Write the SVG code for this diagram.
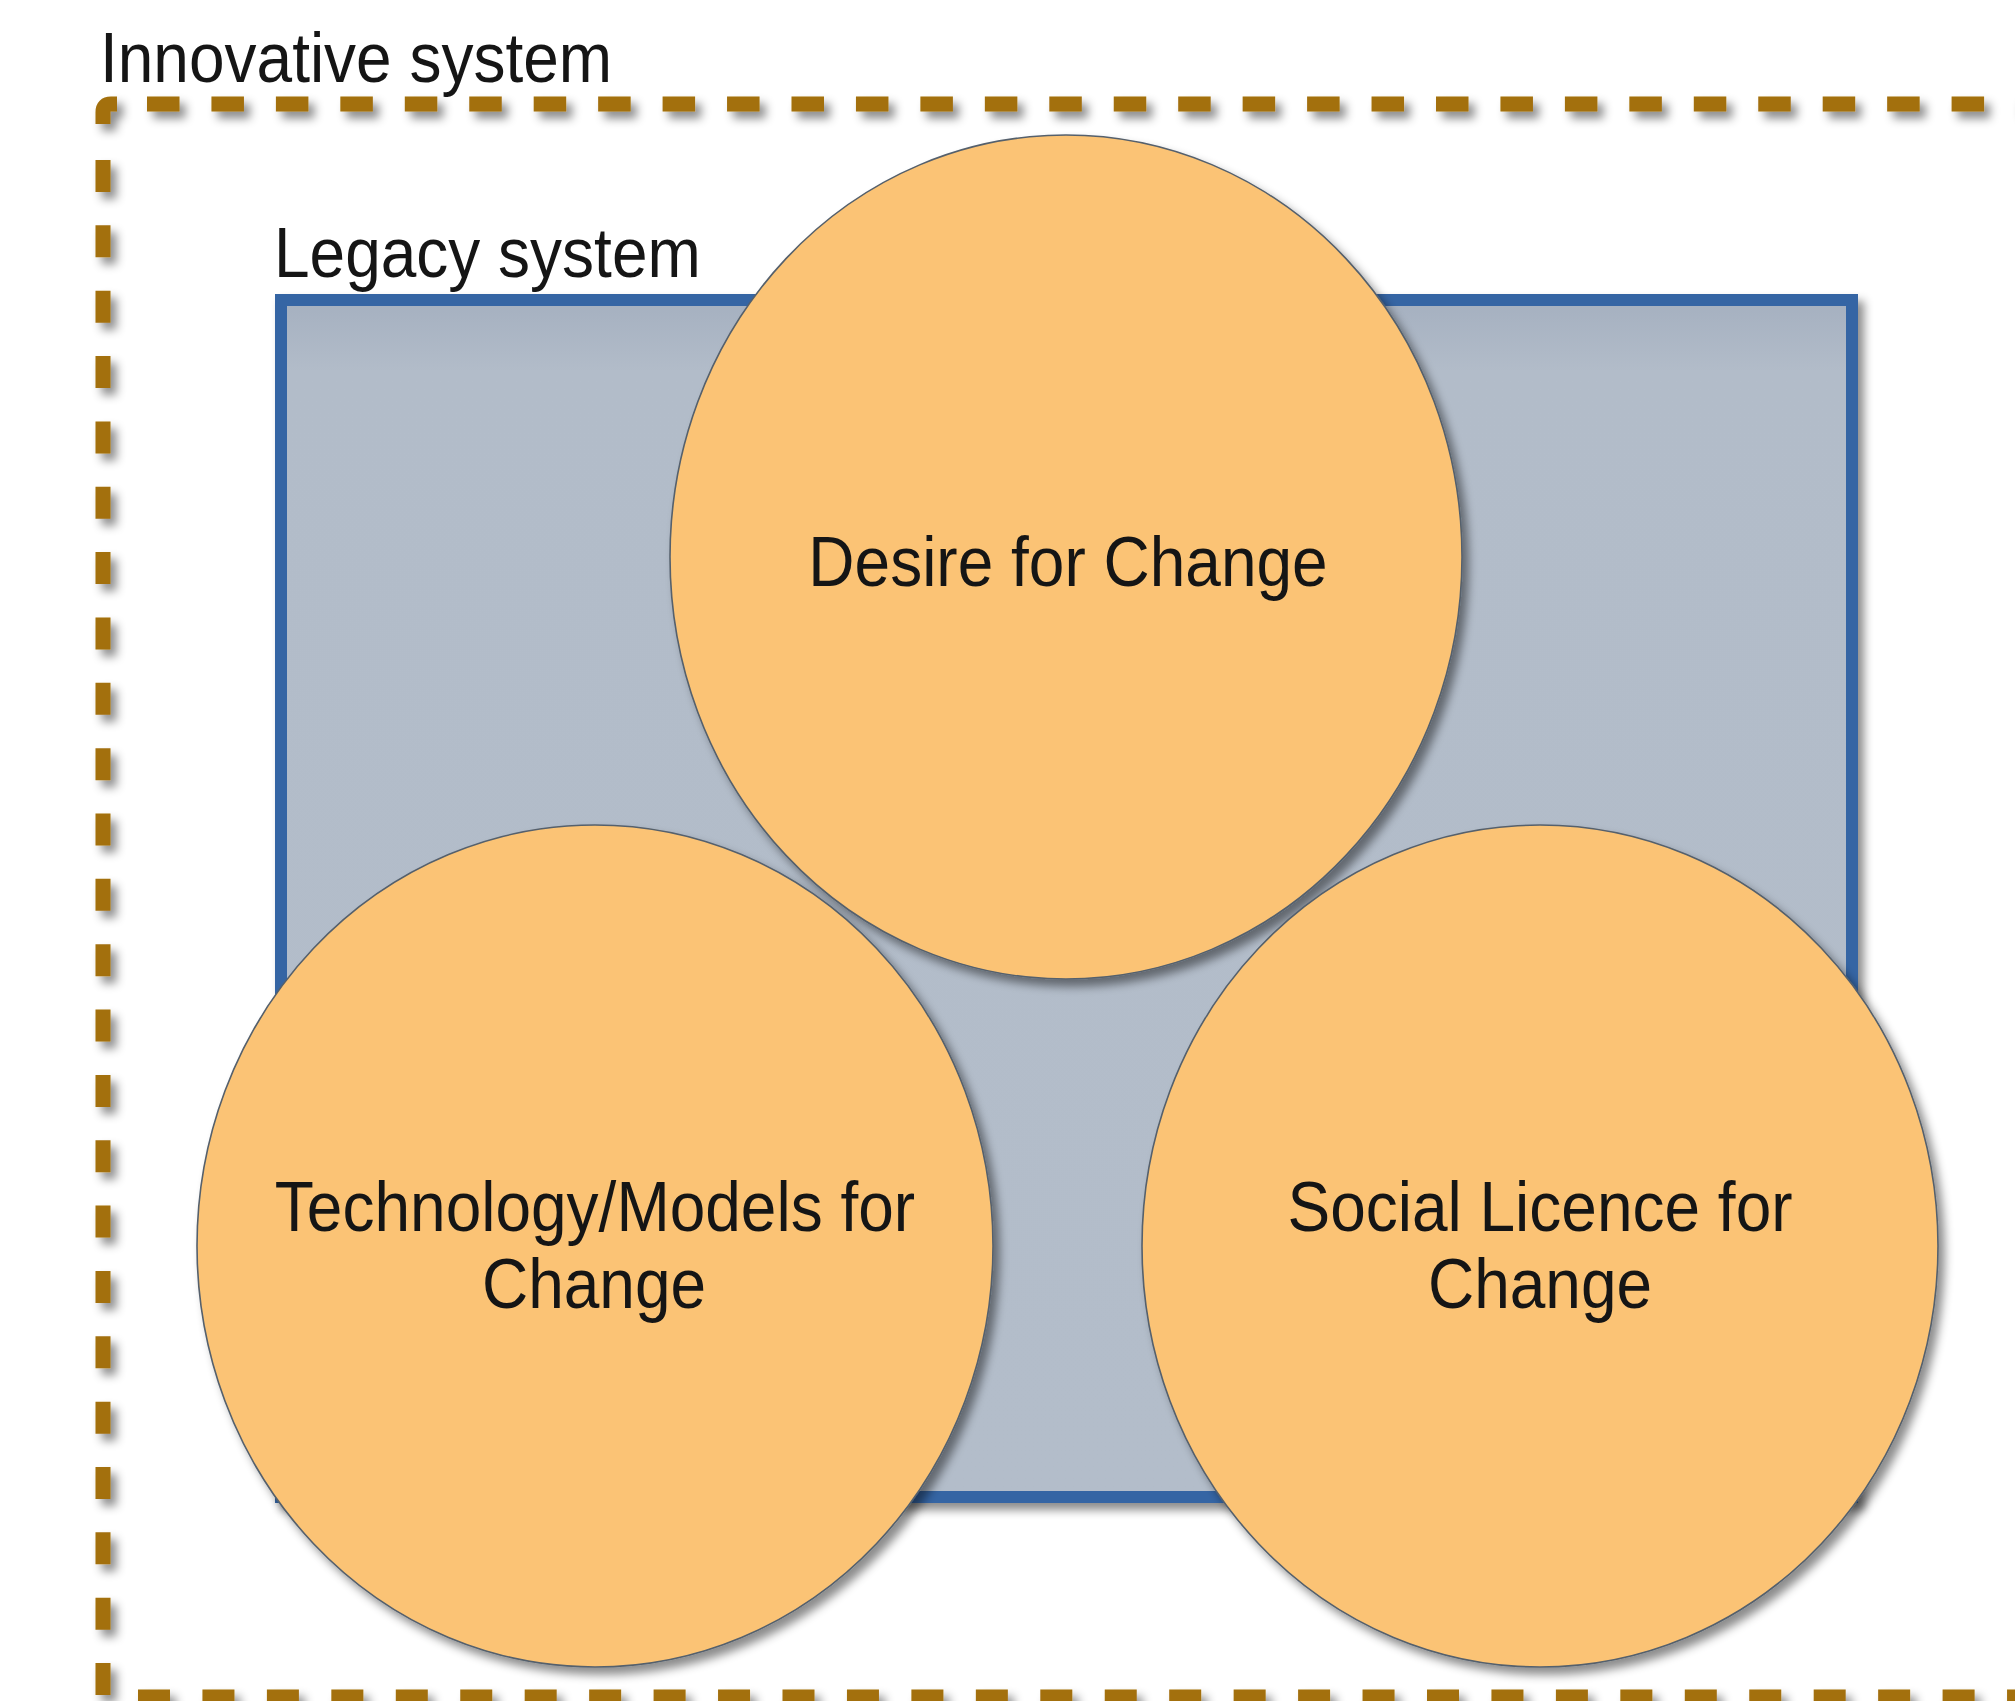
<svg xmlns="http://www.w3.org/2000/svg" width="2015" height="1701" viewBox="0 0 2015 1701">
  <style>
    .lbl { font-family: "Liberation Sans", Arial, sans-serif; font-size: 64px; fill: #151515; }
    .mid { text-anchor: middle; }
    .dash { fill: none; stroke: #a36f0a; stroke-width: 15; }
    .circ { fill: #fbc374; stroke: #55606c; stroke-width: 1.6; }
  </style>
  <defs>
    <filter id="shadow" x="-10%" y="-10%" width="125%" height="125%">
      <feDropShadow dx="6" dy="7" stdDeviation="5" flood-color="#000" flood-opacity="0.45"/>
    </filter>
    <linearGradient id="legacyFill" x1="0" y1="0" x2="0" y2="1">
      <stop offset="0" stop-color="#a5b0c0"/>
      <stop offset="0.06" stop-color="#b2bcc9"/>
      <stop offset="1" stop-color="#b3bdca"/>
    </linearGradient>
  </defs>
  <rect width="2015" height="1701" fill="#ffffff"/>

  <g id="innovative-system">
    <g filter="url(#shadow)">
      <path class="dash" d="M103 124 L103 112 Q103 104 111 104 L117 104"/>
      <line class="dash" x1="147" y1="104" x2="2040" y2="104" stroke-dasharray="32.5 31.95"/>
      <line class="dash" x1="103" y1="160" x2="103" y2="1695" stroke-dasharray="32 33.35"/>
      <line class="dash" x1="138" y1="1697" x2="2040" y2="1697" stroke-dasharray="32 32.45"/>
    </g>
    <text class="lbl" transform="translate(100,82) scale(1,1.1)">Innovative system</text>
  </g>

  <g id="legacy-system">
    <rect x="281" y="300" width="1571" height="1197" fill="url(#legacyFill)" stroke="#3465a4" stroke-width="12" filter="url(#shadow)"/>
    <text class="lbl" transform="translate(274,277) scale(1,1.1)">Legacy system</text>
  </g>

  <g id="desire">
    <ellipse class="circ" cx="1066" cy="557" rx="396" ry="422" filter="url(#shadow)"/>
    <text class="lbl mid" transform="translate(1068,586) scale(1,1.1)">Desire for Change</text>
  </g>

  <g id="technology">
    <ellipse class="circ" cx="595" cy="1246" rx="398" ry="421" filter="url(#shadow)"/>
    <text class="lbl mid" transform="translate(595,1231) scale(1,1.1)">Technology/Models for</text>
    <text class="lbl mid" transform="translate(594,1308) scale(1,1.1)">Change</text>
  </g>

  <g id="social">
    <ellipse class="circ" cx="1540" cy="1246" rx="398" ry="421" filter="url(#shadow)"/>
    <text class="lbl mid" transform="translate(1540,1231) scale(1,1.1)">Social Licence for</text>
    <text class="lbl mid" transform="translate(1540,1308) scale(1,1.1)">Change</text>
  </g>

  <g id="connectors"/>
</svg>
